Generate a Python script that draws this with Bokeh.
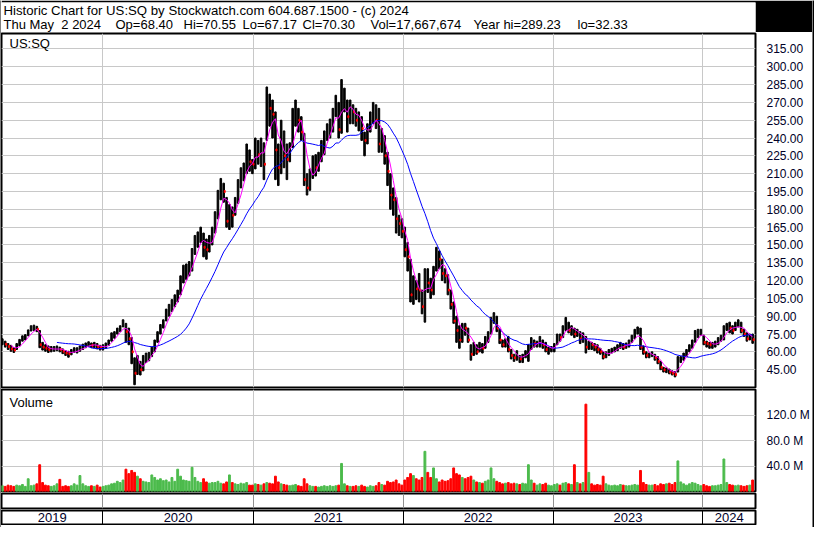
import numpy as np
import pandas as pd
from bokeh.plotting import figure
from bokeh.models import Range1d, Label, FixedTicker, PrintfTickFormatter, ColumnDataSource
from bokeh.layouts import column, row
from bokeh.embed import file_html
from bokeh.resources import INLINE
from bokeh.core.properties import value

FONT = "Liberation Sans"
TXT = "#000028"
RED = "#FF0000"
GREEN = "#4CBB4C"
GRID = "#C8C8C8"

# ---------------- texts ----------------
title1 = "Historic Chart for US:SQ by Stockwatch.com 604.687.1500 - (c) 2024"
title2_fields = ["Thu May\u00a0 2 2024", "Op=68.40", "Hi=70.55", "Lo=67.17", "Cl=70.30",
                 "Vol=17,667,674", "Year hi=289.23", "lo=32.33"]
symbol = "US:SQ"
vol_title = "Volume"
price_ticks = [45, 60, 75, 90, 105, 120, 135, 150, 165, 180, 195, 210, 225, 240, 255, 270, 285, 300, 315]
vol_ticks = [40, 80, 120]
years = [2019, 2020, 2021, 2022, 2023, 2024]

# ---------------- weekly data ----------------
c2019 = [68.5, 66.5, 64.5, 62.5, 61.5, 65, 68.5, 71.5, 72.5, 76, 80, 80.5, 79,
         66, 64, 63, 62, 62, 62.5, 63, 62, 60.5, 59, 58.5, 60, 61.5,
         61.5, 63, 64.5, 65.5, 66.5, 65.5, 66, 64.5, 63.5]
h2019 = [71, 69, 67, 65.5, 63.5, 67, 70.5, 73.5, 74.5, 78.5, 82, 82.5, 81.5,
         78, 68, 66, 65, 64.5, 64.5, 65, 64, 62.5, 61, 60.5, 62, 63.5,
         63.5, 65, 66.5, 67.5, 68.5, 67.5, 68, 67, 65.5]
l2019 = [66, 64, 62, 60.5, 59.5, 62, 65, 69, 70, 73.5, 77.5, 78, 77,
         63.5, 61.5, 60.5, 59.5, 60, 60.5, 61, 60, 58.5, 57, 55.5, 57.5, 59.5,
         59, 60.5, 62, 63.5, 64.5, 63.5, 63.5, 62.5, 61.5]

c2020 = [64, 65.5, 68, 73, 74.5, 78, 80, 84, 77, 71, 60, 42, 50, 45, 54, 55, 57,
         62, 66, 74, 80, 85, 92, 96, 100, 104, 108, 118, 125, 128, 130,
         140, 152, 155, 160, 148, 146, 152, 162, 174, 190, 198, 195, 170,
         178, 175, 185, 200, 208, 212, 225, 220]
h2020 = [66, 67.5, 70, 76, 77, 80, 82, 87, 84, 80, 72, 55, 57, 52, 57, 59, 59.5,
         64, 70, 77, 83, 87, 96, 100, 104, 108, 112, 124, 133, 134, 136,
         147, 158, 161, 165, 160, 155, 158, 165, 178, 196, 206, 202, 190,
         184, 182, 190, 205, 215, 219, 235, 230]
l2020 = [61.5, 63, 65.5, 69, 71.5, 75, 77, 81, 68, 66, 50, 32.33, 41, 40.5, 44, 51, 52.5,
         56, 60, 68, 75, 80, 86, 90, 94, 98, 102, 108, 118, 121, 124,
         128, 142, 148, 152, 140, 138, 144, 150, 160, 172, 188, 186, 165,
         163, 165, 175, 185, 198, 204, 210, 212]

c2021 = [218, 232, 226, 234, 218, 270, 265, 260, 230, 215, 245, 225, 222,
         232, 258, 262, 255, 245, 205, 198, 210, 222, 215, 222, 232, 240,
         248, 250, 260, 270, 247, 270, 272, 258, 265, 262, 255, 255, 248,
         238, 246, 256, 263, 255, 235, 240, 225, 212, 192, 188, 172, 168, 161.5]
h2021 = [222, 240, 238, 240, 236, 283, 277, 272, 262, 235, 255, 246, 235,
         236, 265, 272, 265, 258, 244, 210, 214, 225, 226, 228, 238, 246,
         252, 256, 265, 276, 270, 289.23, 282, 272, 272, 268, 265, 262, 258,
         245, 252, 262, 270, 268, 265, 248, 242, 228, 210, 198, 190, 175, 172]
l2021 = [210, 214, 218, 216, 205, 238, 250, 240, 205, 200, 210, 215, 205,
         220, 232, 250, 245, 238, 200, 192, 196, 206, 208, 212, 220, 226,
         238, 240, 245, 258, 240, 244, 262, 245, 252, 252, 250, 246, 238,
         225, 235, 245, 252, 248, 228, 228, 218, 200, 180, 175, 160, 158, 156]

c2022 = [146, 140, 108, 120, 113, 112, 98, 126, 118, 112, 128, 142,
         138, 126, 124, 112, 100, 86, 78, 70, 82, 80, 70, 58, 66,
         60, 66, 63, 70, 76, 86, 90, 80, 70, 66, 70, 62, 57, 55,
         57, 54, 57, 59, 63, 70, 67, 67, 68, 66, 62, 62, 63]
h2022 = [165, 152, 138, 124, 120, 126, 112, 130, 130, 122, 132, 148,
         145, 138, 130, 125, 112, 102, 90, 82, 84, 84, 80, 66, 68,
         66, 68, 67, 73, 77, 89, 93, 90, 79, 70, 71, 73, 62, 58,
         61, 57, 58, 61, 66, 72, 70, 69, 73, 70, 68, 64, 64.5]
l2022 = [140, 128, 102, 100, 104, 102, 92, 85, 110, 105, 108, 128,
         130, 120, 118, 108, 96, 84, 68, 63, 68, 74, 68, 53, 57,
         58, 60, 59, 63, 68, 75, 84, 77, 67, 64, 64, 60, 54, 52,
         53, 51, 51, 55, 52, 62, 64, 64, 64, 63, 60, 58, 60]

c2023 = [66, 74, 72, 80, 84, 78, 80, 75, 77, 71, 74, 64, 68.5,
         66, 64, 62, 60, 56, 58, 60, 62, 62, 65, 66, 64, 66.5,
         68, 72, 76, 78, 64, 60, 57, 57, 58, 55, 52, 47, 44.8,
         45, 43, 42, 41, 54, 54, 57, 60, 64, 68, 75, 76, 77]
h2023 = [67, 75, 75, 82, 89, 85, 82, 80, 79, 77, 76, 73, 69,
         68, 67, 66, 63, 60, 60, 62, 63, 64, 66, 68, 67, 67.5,
         70, 74, 79, 81, 80, 65, 60, 59, 60, 58, 56, 52, 47,
         46.5, 45.5, 44, 43.5, 56, 56, 59, 62, 66, 70, 78, 79, 79]
l2023 = [60, 66, 69, 72, 78, 76, 74, 72, 73, 67, 68, 59, 62,
         62, 61, 59, 58, 54, 55, 57, 59, 60, 61, 63, 62, 63,
         64, 68, 71, 75, 62, 58, 55, 55, 56, 53, 50, 45, 43,
         42.5, 41.5, 40.5, 38.9, 43, 51, 53, 56, 60, 63, 68, 72, 74]

c2024 = [68, 67, 66, 66, 67, 70, 72, 80, 82, 80, 78, 82, 84.5, 78, 75, 71, 74, 70.3]
h2024 = [74, 69, 68, 68, 69, 72, 74, 82, 84, 85, 82, 85, 87, 85, 79, 76, 75, 75]
l2024 = [66, 64, 63, 63, 64, 66, 69, 70, 78, 76, 75, 78, 81, 76, 73, 69, 70, 67.17]

# volume, millions (weekly peak of daily volume)
v2019 = [9, 8, 10, 9, 8, 10, 9, 11, 8, 20, 9, 10, 12, 42, 14, 10, 9, 8,
         9, 12, 19, 8, 9, 8, 9, 12, 10, 25, 12, 9, 8, 9, 8, 10, 7]
v2020 = [8, 9, 10, 12, 13, 16, 14, 18, 35, 28, 33, 30, 24, 20, 16, 15, 14,
         26, 22, 18, 20, 17, 18, 15, 22, 16, 35, 24, 18, 17, 16,
         38, 22, 16, 14, 20, 15, 13, 14, 14, 16, 13, 12, 15,
         26, 14, 12, 11, 13, 12, 14, 10]
v2021 = [10, 12, 11, 10, 12, 14, 13, 12, 24, 15, 12, 11, 10,
         9, 10, 11, 9, 8, 20, 12, 9, 8, 8, 7, 8, 9,
         8, 9, 8, 9, 10, 44, 12, 9, 8, 8, 9, 8, 10,
         8, 7, 9, 8, 9, 14, 11, 10, 16, 14, 15, 18, 12, 10]
v2022 = [18, 22, 28, 25, 20, 18, 22, 63, 30, 22, 37, 20,
         15, 18, 16, 17, 20, 37, 28, 26, 22, 20, 22, 24, 18,
         15, 14, 13, 16, 18, 37, 20, 16, 14, 12, 13, 14, 12, 13,
         12, 11, 13, 12, 42, 18, 13, 10, 12, 11, 13, 10, 9]
v2023 = [11, 12, 10, 13, 14, 12, 11, 42, 14, 12, 14, 137, 30,
         12, 10, 11, 10, 24, 12, 10, 9, 10, 9, 11, 10, 9,
         9, 10, 11, 10, 33, 14, 11, 10, 10, 11, 9, 12, 11,
         12, 13, 11, 14, 48, 15, 12, 10, 12, 14, 13, 11, 9]
v2024 = [11, 9, 8, 9, 9, 10, 11, 51, 14, 11, 10, 9, 10, 9, 8, 9, 10, 18]

close = c2019 + c2020 + c2021 + c2022 + c2023 + c2024
high = h2019 + h2020 + h2021 + h2022 + h2023 + h2024
low = l2019 + l2020 + l2021 + l2022 + l2023 + l2024
volume = v2019 + v2020 + v2021 + v2022 + v2023 + v2024

DAY = 86400000.0
dates = pd.date_range("2019-05-01", periods=len(close), freq="W-WED")
df = pd.DataFrame(dict(date=dates, close=close, high=high, low=low, vol=volume))
chg = df["close"].diff().fillna(0.0)
df["vcolor"] = np.where(chg >= 0, GREEN, RED)
df["ma_s"] = df["close"].rolling(4).mean()
df["ma_l"] = df["close"].rolling(20).mean()
df["tick_x"] = df["date"] + pd.Timedelta(days=2.5)
src = ColumnDataSource(df)
down_src = ColumnDataSource(df[chg < 0])

x_start = pd.Timestamp("2019-04-29")
x_end = pd.Timestamp("2024-05-08")
to_ms = lambda t: t.value / 1e6
year_bounds = [to_ms(pd.Timestamp(f"{y}-01-01")) for y in years[1:]]
year_mids = []
for y in years:
    a = max(to_ms(x_start), to_ms(pd.Timestamp(f"{y}-01-01")))
    b = min(to_ms(x_end), to_ms(pd.Timestamp(f"{y + 1}-01-01")))
    year_mids.append((a + b) / 2)

COLW = 811
RB = 53
HDR_H, PRICE_H, VOL_H, BAND_H, LAB_H = 32, 356, 104, 17, 16


def panel(h, yr, tb=1, bb=1):
    p = figure(width=COLW, height=h, x_range=Range1d(x_start, x_end), y_range=yr,
               x_axis_type="datetime", x_axis_location=None, y_axis_location="right",
               toolbar_location=None, output_backend="svg", title=None,
               min_border_left=0, min_border_right=RB, min_border_top=tb, min_border_bottom=bb)
    p.background_fill_color = "white"
    p.border_fill_color = "white"
    p.outline_line_color = "black"
    p.outline_line_width = 2
    p.outline_line_alpha = 1.0
    p.xgrid.ticker = FixedTicker(ticks=year_bounds)
    p.grid.grid_line_color = GRID
    p.grid.grid_line_width = 1
    ax = p.yaxis[0]
    ax.axis_line_color = None
    ax.major_tick_line_color = None
    ax.minor_tick_line_color = None
    ax.major_label_standoff = 5
    ax.major_label_text_font = FONT
    ax.major_label_text_font_size = "12px"
    ax.major_label_text_color = TXT
    return p


# header
hdr = figure(width=COLW, height=HDR_H, x_range=Range1d(0, 1), y_range=Range1d(0, 1),
             x_axis_location=None, y_axis_location=None, toolbar_location=None,
             output_backend="svg", title=None, min_border_left=0, min_border_right=0,
             min_border_top=2, min_border_bottom=0)
hdr.grid.visible = False
hdr.background_fill_color = "white"
hdr.border_fill_color = "black"
hdr.outline_line_color = None
hdr.add_layout(Label(x=0, y=1, text=title1, text_font=FONT, text_font_size="13.2px",
                     text_color="black", text_baseline="top", x_offset=2, y_offset=0))
field_x = [2, 114, 182, 241, 301, 369, 472, 576]
for txt, fx in zip(title2_fields, field_x):
    hdr.add_layout(Label(x=0, y=1, text=txt, text_font=FONT, text_font_size="13px",
                         text_color="black", text_baseline="top",
                         x_offset=fx, y_offset=-14))

# price
pp = panel(PRICE_H, Range1d(30, 328))
pp.yaxis.ticker = FixedTicker(ticks=price_ticks)
pp.yaxis.formatter = PrintfTickFormatter(format="%.2f")
pp.vbar(x="date", bottom="low", top="high", width=3.8 * DAY, color="black", source=src)
pp.rect(x="tick_x", y="close", width=2.5 * DAY, height=2, height_units="screen",
        color=RED, source=down_src)
pp.line(x="date", y="ma_l", color="#0000FF", line_width=1, source=src)
pp.line(x="date", y="ma_s", color="#FF00FF", line_width=1, source=src)
pp.add_layout(Label(x=to_ms(x_start), y=328, text=symbol, text_font=FONT,
                    text_font_size="13px", text_color="black", text_baseline="top",
                    x_offset=8, y_offset=-2))

# volume
pv = panel(VOL_H, Range1d(0, 160))
pv.yaxis.ticker = FixedTicker(ticks=vol_ticks)
pv.yaxis.formatter = PrintfTickFormatter(format="%.1f M")
pv.vbar(x="date", top="vol", bottom=0, width=4.5 * DAY, color="vcolor", source=src)
pv.add_layout(Label(x=to_ms(x_start), y=160, text=vol_title, text_font=FONT,
                    text_font_size="13px", text_color="black", text_baseline="top",
                    x_offset=8, y_offset=-5))

# empty band
pb = panel(BAND_H, Range1d(0, 1))
pb.yaxis.visible = False
pb.ygrid.visible = False
pb.xgrid.grid_line_color = "#909090"

# year labels band
pl = panel(LAB_H, Range1d(0, 1))
pl.yaxis.visible = False
pl.ygrid.visible = False
pl.xgrid.grid_line_color = "black"
pl.text(x=year_mids, y=[0.5] * len(years), text=[str(y) for y in years],
        text_font=value(FONT), text_font_size="13px", text_color=TXT,
        text_align="center", text_baseline="middle")


def strip(w, h):
    s = figure(width=w, height=h, x_range=Range1d(0, 1), y_range=Range1d(0, 1),
               x_axis_location=None, y_axis_location=None, toolbar_location=None,
               output_backend="svg", title=None, min_border=0)
    s.grid.visible = False
    s.background_fill_color = "black"
    s.border_fill_color = "black"
    s.outline_line_color = None
    return s


TOTAL_H = HDR_H + PRICE_H + VOL_H + BAND_H + LAB_H + 2
bottom = strip(COLW, 2)
lay = row(strip(1, TOTAL_H), column(hdr, pp, pv, pb, pl, bottom), strip(2, TOTAL_H))

open("out.html", "w").write(file_html(lay, INLINE))
